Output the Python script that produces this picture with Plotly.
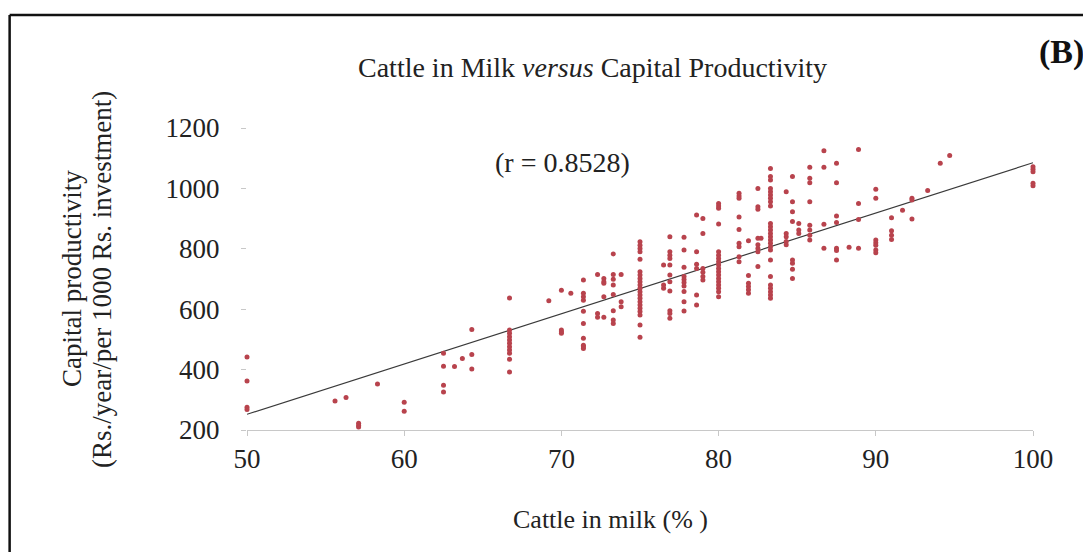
import plotly.graph_objects as go

# ---- data (grouped by x column) ----
col_x = [50, 55.6, 56.3, 57.1, 58.3, 60, 62.5, 63.2, 63.7, 64.3, 66.7, 69.2, 70, 70.6,
         71.4, 72.3, 72.7, 73.3, 73.8, 75, 76.5, 76.9, 77.8, 78.6, 79.0, 80, 81.3,
         81.9, 82.5, 82.7, 83.3, 84.3, 84.7, 85.1, 85.8, 86.7, 87.5, 88.3, 88.9, 90.0,
         91.0, 91.7, 92.3, 93.3, 94.1, 94.7, 100]
col_y = [
    [442, 362, 275, 268],
    [296],
    [308],
    [222, 215, 210],
    [352],
    [292, 262],
    [454, 411, 348, 326],
    [410],
    [437],
    [533, 450, 402],
    [637, 531, 520, 509, 498, 487, 476, 465, 454, 434, 392],
    [628],
    [663, 531, 525, 520],
    [653],
    [697, 653, 641, 630, 593, 553, 504, 481, 476, 470],
    [715, 586, 573],
    [702, 691, 686, 641, 573],
    [783, 715, 699, 680, 649, 595, 564, 553],
    [715, 625, 608],
    [823, 812, 801, 790, 765, 724, 713, 702, 691, 680, 669, 658, 647, 636, 625, 614,
     603, 592, 581, 548, 507],
    [746, 680, 669],
    [840, 790, 779, 768, 746, 713, 691, 660, 595, 586, 570],
    [838, 796, 739, 708, 698, 688, 677, 659, 625, 594],
    [912, 790, 749, 735, 647, 614],
    [900, 851, 735, 722, 708, 697],
    [950, 942, 934, 882, 790, 779, 768, 757, 746, 735, 724, 713, 702, 691, 680, 669,
     658, 641],
    [984, 975, 967, 905, 864, 818, 807, 774, 757],
    [827, 712, 686, 675, 664, 653],
    [1000, 939, 931, 835, 813, 801, 790, 741],
    [835],
    [1066, 1039, 1028, 1000, 989, 978, 967, 956, 942, 884, 873, 862, 851, 840, 829,
     818, 807, 796, 763, 708, 680, 669, 658, 647, 636],
    [989, 851, 840, 824, 813],
    [1039, 956, 923, 890, 763, 752, 732, 702],
    [884, 862, 851],
    [1070, 1034, 1019, 956, 878, 862, 845, 829],
    [1125, 1070, 881, 802],
    [1083, 1019, 909, 887, 802, 794, 763],
    [805],
    [1129, 950, 897, 802],
    [997, 967, 829, 820, 812, 796, 787],
    [903, 860, 845, 831],
    [928],
    [967, 962, 899],
    [993],
    [1083],
    [1109],
    [1072, 1063, 1055, 1017, 1009],
]

trend_x = [50, 100]
trend_y = [252, 1085]

x_ticks = [50, 60, 70, 80, 90, 100]
y_ticks = [200, 400, 600, 800, 1000, 1200]

cattle_pct = []
capital_prod = []
for xv, ys in zip(col_x, col_y):
    for yv in ys:
        cattle_pct.append(xv)
        capital_prod.append(yv)

SERIF = "Liberation Serif, Times New Roman, serif"

fig = go.Figure()
fig.add_trace(go.Scatter(
    x=trend_x, y=trend_y, mode="lines",
    line=dict(color="#3a3a3a", width=1.2), hoverinfo="skip", showlegend=False,
    cliponaxis=False))
fig.add_trace(go.Scatter(
    x=cattle_pct, y=capital_prod, mode="markers",
    marker=dict(color="#b8434d", size=5, line=dict(width=0)),
    showlegend=False, cliponaxis=False))

fig.update_layout(
    width=1091, height=552,
    margin=dict(l=239, r=66, t=120, b=130),
    paper_bgcolor="white", plot_bgcolor="white",
    font=dict(family=SERIF, color="#222", size=27),
    xaxis=dict(range=[50, 100], tickvals=x_ticks, showgrid=False, zeroline=False,
               showline=True, linecolor="#c8c8c8", linewidth=1,
               ticks="outside", ticklen=5, tickcolor="#c8c8c8",
               tickfont=dict(family=SERIF, size=27, color="#222")),
    yaxis=dict(range=[200, 1200], tickvals=y_ticks, showgrid=False, zeroline=False,
               showline=False, ticks="outside", ticklen=5, tickcolor="#c8c8c8",
               ticklabelstandoff=16,
               tickfont=dict(family=SERIF, size=27, color="#222")),
    shapes=[
        dict(type="line", xref="paper", yref="paper", x0=-0.302, x1=1.09,
             y0=1.374, y1=1.374, line=dict(color="#111", width=2.5)),
        dict(type="line", xref="paper", yref="paper", x0=-0.302, x1=-0.302,
             y0=1.374, y1=-0.45, line=dict(color="#111", width=2.5)),
    ],
    annotations=[
        dict(text="Cattle in Milk <i>versus</i> Capital Productivity",
             xref="paper", yref="paper", x=0.44, y=1.199, showarrow=False,
             xanchor="center", yanchor="middle", font=dict(size=28, family=SERIF)),
        dict(text="<b>(B)</b>", xref="paper", yref="paper", x=1.036, y=1.252,
             showarrow=False, xanchor="center", yanchor="middle",
             font=dict(size=34, family=SERIF, color="#111")),
        dict(text="(r = 0.8528)", xref="paper", yref="paper", x=0.402, y=0.887,
             showarrow=False, xanchor="center", yanchor="middle",
             font=dict(size=28, family=SERIF)),
        dict(text="Cattle in milk (% )", xref="paper", yref="paper", x=0.463,
             y=-0.298, showarrow=False, xanchor="center", yanchor="middle",
             font=dict(size=26, family=SERIF)),
        dict(text="Capital productivity",
             xref="paper", yref="paper", x=-0.2226, y=0.5, textangle=-90,
             showarrow=False, xanchor="center", yanchor="middle",
             font=dict(size=27, family=SERIF)),
        dict(text="(Rs./year/per 1000 Rs. investment)",
             xref="paper", yref="paper", x=-0.1845, y=0.5, textangle=-90,
             showarrow=False, xanchor="center", yanchor="middle",
             font=dict(size=27, family=SERIF)),
    ],
)

fig.write_html("out.html")
